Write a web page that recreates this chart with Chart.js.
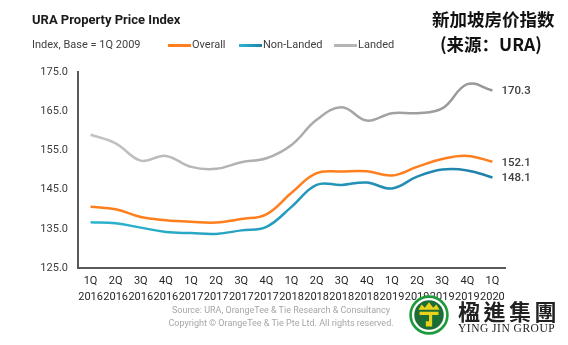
<!DOCTYPE html>
<html>
<head>
<meta charset="utf-8">
<script src="https://cdn.jsdelivr.net/npm/chart.js@4.4.1/dist/chart.umd.min.js"></script>
<style>
  html,body{margin:0;padding:0;background:#fff;}
  #wrap{position:relative;width:568px;height:345px;overflow:hidden;font-family:Roboto,"Noto Sans",sans-serif;}
  canvas{position:absolute;left:0;top:0;}
  .t{position:absolute;white-space:nowrap;line-height:1;}
  .lg{position:absolute;height:2.5px;width:23px;}
</style>
</head>
<body>
<div id="wrap">
  <canvas id="c" width="568" height="345"></canvas>
  <div class="t" style="left:32px;top:13px;font-size:13px;font-weight:700;color:#1a1a1a;">URA Property Price Index</div>
  <div class="t" style="left:32px;top:39px;font-size:11px;color:#404040;">Index, Base = 1Q 2009</div>
  <div class="lg" style="left:168px;top:44px;background:#FF7F1E;"></div>
  <div class="t" style="left:192px;top:39px;font-size:11px;color:#404040;">Overall</div>
  <div class="lg" style="left:239px;top:44px;background:linear-gradient(90deg,#2BB6CF,#1F7FA9);"></div>
  <div class="t" style="left:263px;top:39px;font-size:11px;color:#404040;">Non-Landed</div>
  <div class="lg" style="left:334px;top:44px;background:#B5B5B5;"></div>
  <div class="t" style="left:358px;top:39px;font-size:11px;color:#404040;">Landed</div>
  <div class="t" style="left:432px;top:10px;font-size:17.5px;font-weight:700;color:#111;font-family:'Noto Sans CJK SC';">新加坡房价指数</div>
  <div class="t" style="left:440px;top:35px;font-size:17.5px;font-weight:700;color:#111;font-family:'Noto Sans CJK SC';">(来源：URA)</div>
  <div class="t" style="left:0;width:562px;text-align:center;top:306px;font-size:9px;color:#a6a6a6;">Source: URA, OrangeTee &amp; Tie Research &amp; Consultancy</div>
  <div class="t" style="left:0;width:562px;text-align:center;top:319px;font-size:9px;color:#a6a6a6;">Copyright © OrangeTee &amp; Tie Pte Ltd. All rights reserved.</div>
  <svg style="position:absolute;left:409px;top:295px;" width="40" height="40" viewBox="0 0 38 38">
    <circle cx="19" cy="19" r="17.5" fill="#fff" stroke="#1f9a3a" stroke-width="2.5"/>
    <circle cx="19" cy="19" r="14" fill="#1c6e35"/>
    <path d="M9 14 L12 9 L15 12 L19 7 L23 12 L26 9 L29 14 Z" fill="#e9d21c"/>
    <path d="M10 16 L28 16 L28 19 L22 19 L22 30 L16 30 L16 25 L19 25 L19 19 L10 19 Z" fill="#e9d21c"/>
  </svg>
  <div class="t" style="left:458px;top:299px;font-size:22px;font-weight:700;color:#222;font-family:'Noto Sans CJK TC';letter-spacing:3.5px;">楹進集團</div>
  <div class="t" style="left:458px;top:323px;font-size:11.5px;color:#222;font-family:'Liberation Serif',serif;letter-spacing:0.5px;">YING JIN GROUP</div>
</div>
<script>
const quarters = ['1Q','2Q','3Q','4Q','1Q','2Q','3Q','4Q','1Q','2Q','3Q','4Q','1Q','2Q','3Q','4Q','1Q'];
const years = ['2016','2016','2016','2016','2017','2017','2017','2017','2018','2018','2018','2018','2019','2019','2019','2019','2020'];
const overall = [140.6, 140.0, 138.0, 137.2, 136.8, 136.6, 137.5, 138.7, 144.2, 149.2, 149.6, 149.7, 148.6, 150.8, 152.8, 153.6, 152.1];
const nonLanded = [136.7, 136.4, 135.3, 134.2, 133.9, 133.7, 134.6, 135.5, 140.6, 146.2, 146.2, 146.8, 145.3, 148.3, 150.1, 149.9, 148.1];
const landed = [159.0, 156.8, 152.4, 153.6, 150.8, 150.3, 152.0, 153.0, 156.4, 162.8, 166.0, 162.6, 164.5, 164.5, 165.7, 171.9, 170.3];
const yTicks = [125, 135, 145, 155, 165, 175];

const labels = quarters.map((q, i) => [q, years[i]]);

function grad(c1, c2) {
  return (context) => {
    const chart = context.chart;
    const area = chart.chartArea;
    if (!area) return c1;
    const g = chart.ctx.createLinearGradient(area.left, 0, area.right, 0);
    g.addColorStop(0, c1);
    g.addColorStop(1, c2);
    return g;
  };
}

const endLabels = {
  id: 'endLabels',
  afterDatasetsDraw(chart) {
    const ctx = chart.ctx;
    ctx.save();
    ctx.font = '500 11.5px Roboto';
    ctx.fillStyle = '#404040';
    ctx.textBaseline = 'middle';
    ctx.textAlign = 'left';
    chart.data.datasets.forEach((ds, i) => {
      const meta = chart.getDatasetMeta(i);
      const pt = meta.data[meta.data.length - 1];
      const v = ds.data[ds.data.length - 1];
      ctx.fillText(v.toFixed(1), pt.x + 9, pt.y + 1);
    });
    ctx.restore();
  }
};

new Chart(document.getElementById('c'), {
  type: 'line',
  data: {
    labels: labels,
    datasets: [
      { label: 'Overall', data: overall, borderColor: '#FF7F1E', borderWidth: 2.5, tension: 0.4, pointRadius: 0 },
      { label: 'Non-Landed', data: nonLanded, borderColor: grad('#2BB6CF', '#1F7FA9'), borderWidth: 2.5, tension: 0.4, pointRadius: 0 },
      { label: 'Landed', data: landed, borderColor: grad('#C4C4C4', '#959595'), borderWidth: 2.5, tension: 0.4, pointRadius: 0 }
    ]
  },
  options: {
    responsive: false,
    animation: false,
    events: [],
    layout: { padding: { top: 72, right: 63, left: 0, bottom: 0 } },
    plugins: { legend: { display: false }, tooltip: { enabled: false }, title: { display: false } },
    scales: {
      x: {
        offset: true,
        grid: { display: false, drawTicks: false },
        border: { display: true, color: '#595959', width: 2 },
        ticks: { color: '#262626', font: { family: 'Roboto', size: 11, lineHeight: 1.45 }, padding: 5, maxRotation: 0, autoSkip: false },
        afterFit(s) { s.height = 77; }
      },
      y: {
        min: 125, max: 175,
        afterBuildTicks(s) { s.ticks = yTicks.map(v => ({ value: v })); },
        grid: { display: false, drawTicks: false },
        border: { display: true, color: '#595959', width: 2 },
        ticks: { color: '#404040', font: { family: 'Roboto', size: 11 }, padding: 10, callback: v => Number(v).toFixed(1) },
        afterFit(s) { s.width = 78; }
      }
    }
  },
  plugins: [endLabels]
});
</script>
</body>
</html>
